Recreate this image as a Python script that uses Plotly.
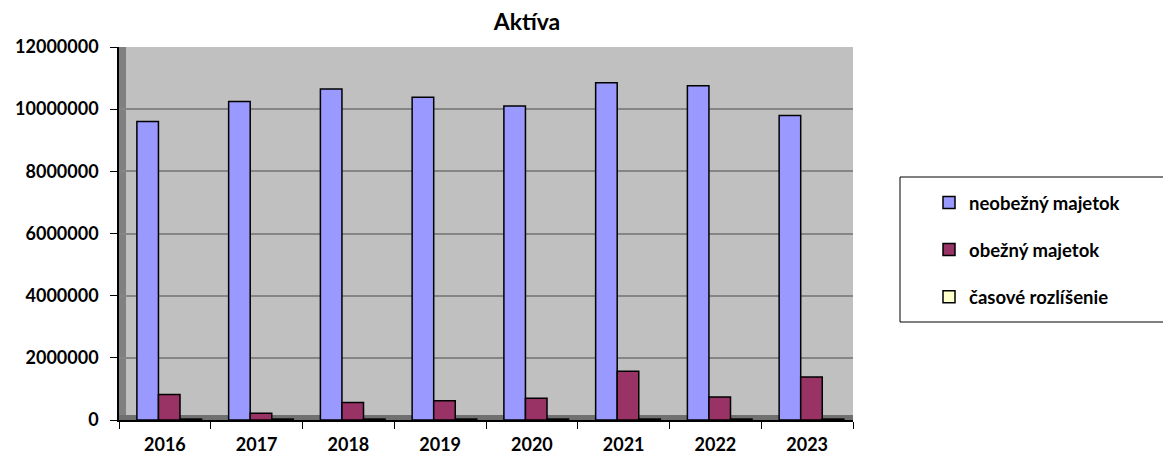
import plotly.graph_objects as go

years = ["2016", "2017", "2018", "2019", "2020", "2021", "2022", "2023"]
neobezny = [9600000, 10250000, 10650000, 10380000, 10100000, 10850000, 10750000, 9800000]
obezny = [820000, 220000, 560000, 620000, 700000, 1570000, 740000, 1380000]
casove = [30000, 30000, 30000, 30000, 30000, 30000, 30000, 30000]
series_names = ["neobežný majetok", "obežný majetok", "časové rozlíšenie"]
colors = ["#9999FF", "#993366", "#FFFFCC"]
bar_offsets = [-0.305, -0.07, 0.165]

font_family = "Lato, 'Open Sans', sans-serif"

# plot area in page pixels (page has an 8px body margin)
L, R, T, B = 119, 853, 47, 420
W, H = 1163, 449
PW, PH = R - L, B - T

def px_x(x):
    return (x - L) / PW

def px_y(y):
    return (B - y) / PH

fig = go.Figure()
for i, (name, vals) in enumerate(zip(series_names, [neobezny, obezny, casove])):
    fig.add_trace(go.Bar(
        x=years, y=vals, name=name,
        width=0.235, offset=bar_offsets[i],
        marker=dict(color=colors[i], line=dict(color="black", width=1.5)),
        legendgroup=f"g{i}",
    ))

fig.update_layout(
    width=W, height=H,
    margin=dict(l=L - 8, r=W - (R - 8), t=T - 8, b=H - (B - 8), autoexpand=False),
    paper_bgcolor="white",
    plot_bgcolor="#C0C0C0",
    barmode="group",
    bargap=0.28,
    bargroupgap=0,
    title=dict(text="<b>Aktíva</b>", xref="paper", x=px_x(527), xanchor="center",
               yref="container", y=1 - (22 - 8) / H, yanchor="middle",
               font=dict(family=font_family, size=23, color="black")),
    font=dict(family=font_family, color="black"),
    showlegend=True,
    legend=dict(x=px_x(929), xanchor="left", y=px_y(250), yanchor="middle",
                font=dict(family=font_family, size=18.5, color="black", weight="bold"),
                tracegroupgap=20, bgcolor="rgba(0,0,0,0)", borderwidth=0,
                itemwidth=30),
    shapes=[
        dict(type="rect", xref="paper", yref="paper",
             x0=px_x(900), x1=px_x(1170), y0=px_y(322), y1=px_y(177),
             line=dict(color="black", width=1), fillcolor="rgba(0,0,0,0)"),
        dict(type="rect", xref="paper", yref="paper", layer="between",
             x0=0, x1=7 / PW, y0=0, y1=1,
             line=dict(width=0), fillcolor="#808080"),
        dict(type="rect", xref="paper", yref="paper", layer="between",
             x0=0, x1=1, y0=0, y1=5 / PH,
             line=dict(width=0), fillcolor="#707070"),
    ],
)

fig.update_yaxes(
    range=[0, 12000000], dtick=2000000, tickformat="d", automargin=False,
    showgrid=True, gridcolor="#858585", gridwidth=2,
    showline=True, linecolor="black", linewidth=1.5,
    ticks="outside", ticklen=7, tickcolor="black", ticklabelstandoff=8,
    tickfont=dict(family=font_family, size=18, color="black", weight="bold"),
    zeroline=False,
)
fig.update_xaxes(
    automargin=False,
    showline=True, linecolor="black", linewidth=1.5,
    ticks="outside", tickson="boundaries", ticklen=7, tickcolor="black",
    ticklabelstandoff=8,
    tickfont=dict(family=font_family, size=18, color="black", weight="bold"),
    showgrid=False,
)

fig.write_html("out.html")
